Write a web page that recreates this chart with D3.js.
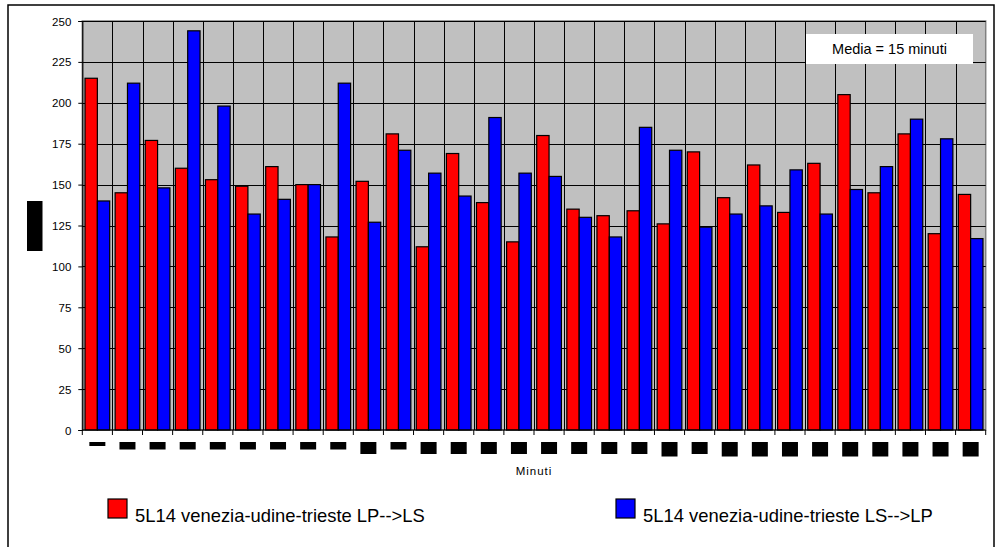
<!DOCTYPE html>
<html>
<head>
<meta charset="utf-8">
<script src="https://cdn.jsdelivr.net/npm/d3@7"></script>
<style>
  body { margin: 0; background: #fff; }
  svg { display: block; }
  text { font-family: Arial, "Liberation Sans", sans-serif; fill: #000; }
</style>
</head>
<body>
<svg id="chart" width="997" height="547"></svg>
<script>
// 30 consecutive time slots
const slots = d3.range(1, 31);
const seriesNames = [
  "5L14 venezia-udine-trieste LP-->LS",
  "5L14 venezia-udine-trieste LS-->LP"
];
const lpToLs = [215,145,177,160,153,149,161,150,118,152,181,112,169,139,115,180,135,131,134,126,170,142,162,133,163,205,145,181,120,144];
const lsToLp = [140,212,148,244,198,132,141,150,212,127,171,157,143,191,157,155,130,118,185,171,124,132,137,159,132,147,161,190,178,117];
const yTicks = d3.range(0, 251, 25);
// slot captions are unreadable glyph runs; only their line count is known
const slotLabelLines = [1,2,2,2,2,2,2,2,2,3,2,3,3,3,3,3,3,3,3,4,3,4,4,4,4,4,4,4,4,4];
const note = "Media = 15 minuti";
const xTitle = "Minuti";
const colors = ["#ff0000", "#0000ff"];

const svg = d3.select("#chart");
const plot = { left: 82.3, right: 985.7, top: 21, bottom: 430 };

const x = d3.scaleBand().domain(slots).range([plot.left, plot.right]).padding(0);
const inner = d3.scaleBand().domain([0, 1]).range([0, x.bandwidth()]).paddingInner(0).paddingOuter(0.22);
const y = d3.scaleLinear().domain([0, 250]).range([plot.bottom, plot.top]);

// outer frame
svg.append("rect")
  .attr("x", 8).attr("y", 5).attr("width", 986).attr("height", 560)
  .attr("fill", "#fff").attr("stroke", "#000").attr("stroke-width", 1.5);

// plot background
svg.append("rect")
  .attr("x", plot.left).attr("y", plot.top)
  .attr("width", plot.right - plot.left).attr("height", plot.bottom - plot.top)
  .attr("fill", "#c0c0c0").attr("stroke", "#808080").attr("stroke-width", 1.5);

// horizontal gridlines
svg.append("g").selectAll("line").data(yTicks.filter(d => d > 0)).join("line")
  .attr("x1", plot.left).attr("x2", plot.right)
  .attr("y1", d => Math.round(y(d)) + 0.5).attr("y2", d => Math.round(y(d)) + 0.5)
  .attr("stroke", "#000").attr("stroke-width", 1);

// vertical gridlines at slot boundaries
svg.append("g").selectAll("line").data(slots.slice(1)).join("line")
  .attr("x1", d => Math.round(x(d)) + 0.5).attr("x2", d => Math.round(x(d)) + 0.5)
  .attr("y1", plot.top).attr("y2", plot.bottom)
  .attr("stroke", "#000").attr("stroke-width", 1);

// bars
const series = [lpToLs, lsToLp];
series.forEach((vals, si) => {
  svg.append("g").selectAll("rect").data(slots).join("rect")
    .attr("x", d => x(d) + inner(si))
    .attr("width", inner.bandwidth())
    .attr("y", (d, i) => y(vals[i]))
    .attr("height", (d, i) => y(0) - y(vals[i]))
    .attr("fill", colors[si])
    .attr("stroke", "#000").attr("stroke-width", 1.2);
});

// y axis
const yAxis = d3.axisLeft(y).tickValues(yTicks).tickSize(4).tickPadding(7).tickFormat(d3.format("d"));
const yG = svg.append("g").attr("transform", `translate(${plot.left},0)`).call(yAxis);
yG.select(".domain").attr("stroke", "#000").attr("stroke-width", 1.2);
yG.selectAll(".tick line").attr("stroke", "#000");
yG.selectAll(".tick text").attr("font-size", 11.5).attr("font-family", "Arial, 'Liberation Sans', sans-serif").attr("dy", "0.35em");

// x axis with ticks at slot boundaries
svg.append("line")
  .attr("x1", plot.left).attr("x2", plot.right)
  .attr("y1", plot.bottom).attr("y2", plot.bottom)
  .attr("stroke", "#000").attr("stroke-width", 1.2);
svg.append("g").selectAll("line").data(slots.concat([null])).join("line")
  .attr("x1", (d, i) => i < slots.length ? x(d) : plot.right)
  .attr("x2", (d, i) => i < slots.length ? x(d) : plot.right)
  .attr("y1", plot.bottom).attr("y2", plot.bottom + 5)
  .attr("stroke", "#000").attr("stroke-width", 1);

// slot captions, drawn as solid blocks
const blockH = d3.scaleOrdinal().domain([1, 2, 3, 4]).range([4, 7.5, 12, 14.5]);
svg.append("g").selectAll("rect").data(slots).join("rect")
  .attr("x", d => x(d) + x.bandwidth() / 2 - 8)
  .attr("y", 442)
  .attr("width", 16)
  .attr("height", (d, i) => blockH(slotLabelLines[i]))
  .attr("fill", "#000");

// y axis title, drawn as a solid block
svg.append("rect")
  .attr("x", 27).attr("y", 201).attr("width", 15.5).attr("height", 50)
  .attr("fill", "#000");

// x axis title
svg.append("text")
  .attr("x", (plot.left + plot.right) / 2).attr("y", 475)
  .attr("text-anchor", "middle").attr("font-size", 11.5).attr("letter-spacing", 1)
  .text(xTitle);

// note box
svg.append("rect")
  .attr("x", 806).attr("y", 34).attr("width", 167).attr("height", 30)
  .attr("fill", "#fff");
svg.append("text")
  .attr("x", 889.5).attr("y", 54).attr("text-anchor", "middle")
  .attr("font-size", 14.5).text(note);

// legend
const legendX = [108, 616];
seriesNames.forEach((name, i) => {
  svg.append("rect")
    .attr("x", legendX[i]).attr("y", 499).attr("width", 19).attr("height", 19)
    .attr("fill", colors[i]).attr("stroke", "#000").attr("stroke-width", 1.2);
  svg.append("text")
    .attr("x", legendX[i] + 27).attr("y", 522)
    .attr("font-size", 18.4).text(name);
});
</script>
</body>
</html>
